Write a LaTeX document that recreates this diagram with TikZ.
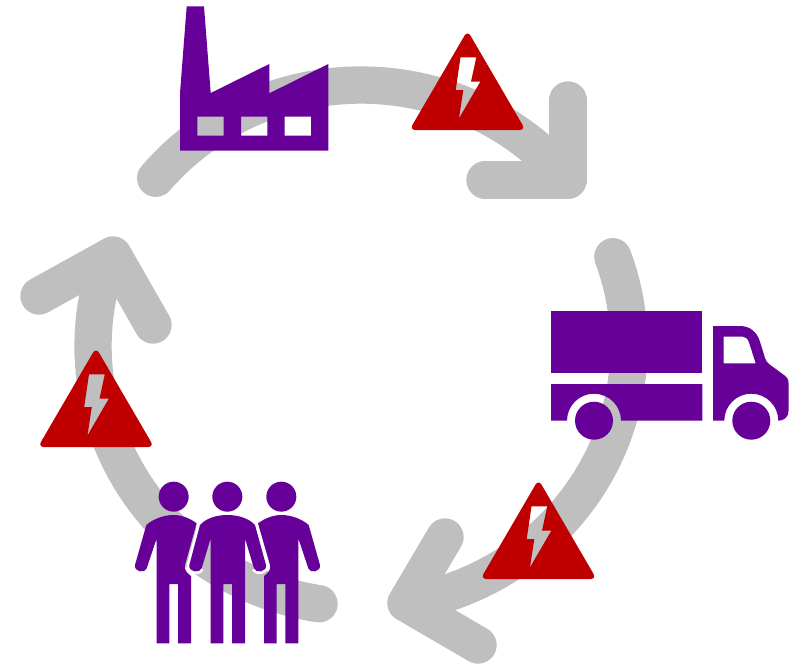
\documentclass[tikz,border=0pt]{standalone}
\definecolor{bandgrey}{HTML}{BFBFBF}
\definecolor{iconpurple}{HTML}{660099}
\definecolor{warnred}{HTML}{C00000}
\tikzset{
  band/.style={draw=bandgrey,line width=28pt,line cap=round,line join=round},
  icon/.style={fill=iconpurple,draw=none},
  warnfill/.style={fill=warnred,even odd rule,draw=none},
  warnsign/.pic={
    \fill[warnfill] [rounded corners=4.5pt] (-58,97) -- (0,-2.5) -- (58,97) -- cycle
      [sharp corners] (-7,24.3) -- (8.8,24.3) -- (3.5,48.7) -- (12.8,48.7) -- (-8.5,85.3) -- (-4.2,57) -- (-11.8,57) -- cycle;
  }
}
\begin{document}
\begin{tikzpicture}[x=0.75pt,y=-0.75pt]
\useasboundingbox (0,0) rectangle (790,665);
% circular arrows
\draw[band] plot[samples=50,domain=140:39.5] ({361+268*cos(\x)},{346-261*sin(\x)});
\draw[band] (568,100) -- (568,180) -- (485,180);
\draw[band] plot[samples=50,domain=20:-80] ({361+268*cos(\x)},{346-261*sin(\x)});
\draw[band] (445,537) -- (406,603) -- (478,645);
\draw[band] plot[samples=50,domain=261:161] ({361+268*cos(\x)},{346-261*sin(\x)});
\draw[band] (39,296) -- (113,255) -- (153,325);
% factory
\fill[icon,even odd rule] (186.7,6.3) -- (204,6.3) -- (210.7,93) -- (269.3,64) -- (269.3,93.3) -- (328.3,64) -- (328.3,150.7) -- (180,150.7) -- (180,93) -- cycle
  (197.3,116.7) rectangle (223.7,135.7)
  (241,116.7) rectangle (267.3,135.7)
  (284.7,116.7) rectangle (311,135.7);
% truck
\fill[icon] (551,310.7) rectangle (702.3,373.3);
\fill[icon] (551,384) -- (702.3,384) -- (702.3,420.7) -- (621,420.7)
  .. controls (621,405.8) and (608.9,393.7) .. (594,393.7)
  .. controls (579.1,393.7) and (567,405.8) .. (567,420.7) -- (551,420.7) -- cycle;
\fill[icon,even odd rule] (713,326) -- (740,326) .. controls (750,326) and (757,332) .. (760,341.7)
  -- (765,358) .. controls (766,361) and (767,362.5) .. (769,364) -- (784,375)
  .. controls (787,377.5) and (788.5,379) .. (788.5,383) -- (788.5,411)
  .. controls (788.5,417) and (784,420.7) .. (778.3,420.7)
  .. controls (778.3,405.8) and (766.2,393.7) .. (751.3,393.7)
  .. controls (736.4,393.7) and (724.3,405.8) .. (724.3,420.7) -- (713,420.7) -- cycle
  (723.7,336.7) -- (743,336.7) .. controls (746,336.7) and (748,339) .. (749.3,343.3) -- (755.7,363.3) -- (723.7,363.3) -- cycle;
\fill[icon] (594,420.7) circle[radius=19];
\fill[icon] (751.3,420.7) circle[radius=19];
% people
\begin{scope}[shift={(130,470)},x=0.25pt,y=-0.25pt]
  \foreach \hx in {131,292,454} \fill[icon] (\hx,80) circle[radius=45];
  \fill[icon] (131,135) .. controls (100,135) and (68,148) .. (49,165) -- (15,285)
    .. controls (11,305) and (45,312) .. (50,295) -- (80,205) -- (80,520) -- (118,520) -- (118,342) -- (144,342) -- (144,520) -- (183,520) -- (183,318)
    .. controls (170,308) and (162,300) .. (165,285) -- (200,160) .. controls (180,145) and (155,135) .. (131,135) -- cycle;
  \fill[icon] (454,135) .. controls (485,135) and (517,148) .. (536,165) -- (570,285)
    .. controls (574,305) and (540,312) .. (535,295) -- (505,205) -- (505,520) -- (466,520) -- (466,342) -- (440,342) -- (440,520) -- (402,520) -- (402,318)
    .. controls (415,308) and (423,300) .. (420,285) -- (384,160) .. controls (404,145) and (430,135) .. (454,135) -- cycle;
  \draw[white,line width=4pt,line join=round] (215,295) .. controls (208,312) and (174,305) .. (178,285) -- (210,165)
    .. controls (225,148) and (254,135) .. (292,135) .. controls (330,135) and (360,148) .. (375,165) -- (408,285) .. controls (412,305) and (378,312) .. (372,295);
  \fill[icon] (292,135) .. controls (330,135) and (360,148) .. (375,165) -- (408,285)
    .. controls (412,305) and (378,312) .. (372,295) -- (345,205) -- (345,520) -- (306,520) -- (306,342) -- (280,342) -- (280,520) -- (242,520) -- (242,205) -- (215,295)
    .. controls (208,312) and (174,305) .. (178,285) -- (210,165) .. controls (225,148) and (254,135) .. (292,135) -- cycle;
\end{scope}
% warning signs
\pic at (467.5,33) {warnsign};
\pic at (538.5,482) {warnsign};
\pic at (96,350) {warnsign};
\end{tikzpicture}
\end{document}
